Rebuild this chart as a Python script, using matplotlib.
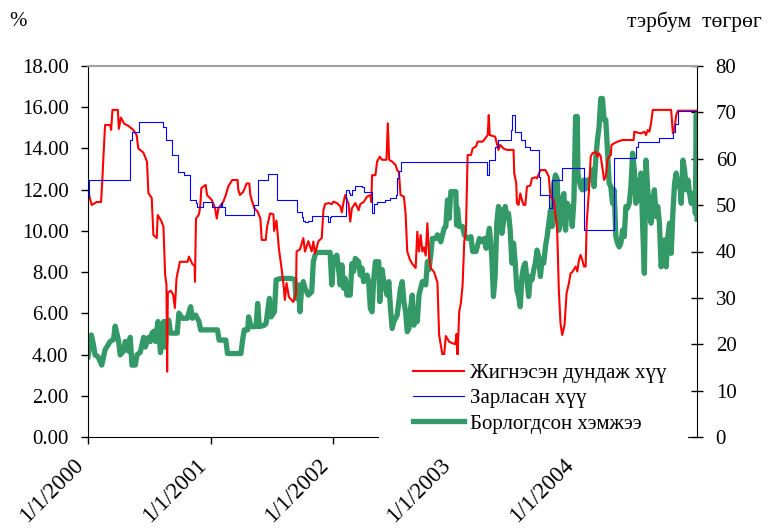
import matplotlib
matplotlib.use('Agg')
import matplotlib.pyplot as plt
import matplotlib.transforms as mtransforms
from matplotlib.patches import Rectangle
import pandas as pd

# serif font with Mongolian Cyrillic (ү, ө)
plt.rcParams['font.family'] = ['Liberation Serif', 'DejaVu Serif']

START = pd.Timestamp('2000-01-01')

# Жигнэсэн дундаж хүү (%), days since 2000-01-01
red_days = [3, 11, 26, 39, 43, 46, 51, 66, 69, 73, 89, 92, 98, 108, 120, 135, 145, 150, 165, 176,
            180, 190, 195, 205, 208, 218, 225, 230, 234, 236, 238, 247, 254, 259, 264, 274, 297, 301, 311, 318,
            319, 322, 331, 335, 338, 351, 355, 369, 379, 384, 389, 403, 411, 418, 430, 446, 448, 453, 463, 473,
            481, 484, 490, 496, 506, 514, 518, 530, 534, 543, 553, 555, 562, 569, 577, 584, 587, 592, 599, 612,
            620, 622, 632, 642, 647, 657, 667, 672, 677, 687, 697, 702, 707, 717, 727, 732, 742, 752, 757, 762,
            767, 777, 782, 787, 797, 807, 812, 822, 832, 842, 845, 847, 857, 862, 870, 877, 890, 894, 898, 907,
            917, 922, 927, 932, 942, 947, 952, 960, 967, 977, 982, 987, 992, 997, 1002, 1007, 1012, 1017, 1022, 1032,
            1042, 1047, 1057, 1062, 1067, 1077, 1087, 1095, 1099, 1102, 1107, 1112, 1117, 1122, 1127, 1132, 1142, 1147, 1157, 1162,
            1177, 1192, 1195, 1198, 1214, 1219, 1224, 1229, 1239, 1249, 1269, 1271, 1277, 1279, 1284, 1289, 1294, 1299, 1304, 1309,
            1319, 1324, 1334, 1339, 1349, 1364, 1369, 1374, 1379, 1389, 1399, 1404, 1409, 1414, 1421, 1427, 1434, 1439, 1444, 1454,
            1459, 1464, 1469, 1474, 1479, 1484, 1487, 1494, 1499, 1504, 1514, 1519, 1524, 1529, 1539, 1544, 1549, 1554, 1559, 1561,
            1569, 1579, 1594, 1627, 1629, 1649, 1659, 1664, 1669, 1674, 1679, 1684, 1739, 1744, 1749, 1754, 1759, 1816]
red_vals = [11.74, 11.26, 11.4, 11.4, 12.55, 13.6, 15.14, 15.14, 14.9, 15.87, 15.87, 14.95, 15.5, 15.2, 15.1, 14.9, 14.65, 14.0, 13.8, 13.36,
            11.84, 11.6, 9.8, 9.65, 10.77, 10.5, 10.2, 7.86, 7.4, 3.17, 7.0, 7.1, 6.9, 6.26, 7.7, 8.5, 8.5, 8.75, 8.4, 8.3,
            7.53, 10.6, 10.8, 11.26, 12.08, 12.23, 11.74, 11.5, 11.1, 10.6, 11.1, 11.4, 11.74, 12.15, 12.47, 12.47, 12.0, 11.74, 11.9, 12.3,
            12.3, 11.74, 11.4, 11.1, 10.93, 10.6, 9.56, 9.56, 10.2, 10.85, 10.8, 10.0, 10.5, 9.17, 8.2, 7.23, 6.65, 7.47, 6.8, 6.55,
            6.9, 9.0, 9.1, 9.65, 9.0, 9.5, 9.0, 9.48, 8.9, 9.5, 9.65, 11.0, 11.3, 11.35, 11.3, 11.42, 11.35, 11.2, 10.9, 11.4,
            11.74, 11.3, 10.45, 11.1, 11.35, 11.0, 11.3, 11.4, 11.66, 11.74, 11.4, 12.7, 12.7, 13.36, 13.6, 13.45, 13.45, 15.22, 13.45, 13.36,
            13.2, 12.95, 12.85, 11.74, 11.66, 10.85, 9.0, 8.6, 8.4, 8.2, 9.96, 9.0, 9.8, 9.0, 9.2, 8.8, 10.37, 8.8, 8.2, 8.0,
            7.5, 4.95, 3.98, 3.98, 4.9, 4.62, 4.55, 4.5, 5.0, 4.0, 6.08, 6.5, 7.37, 9.48, 10.0, 13.68, 13.68, 14.0, 14.1, 14.33,
            14.33, 14.65, 15.62, 14.65, 14.57, 14.25, 13.93, 14.17, 14.0, 13.93, 13.93, 12.8, 12.31, 11.34, 11.26, 11.82, 11.5, 11.26, 11.26, 12.15,
            12.2, 12.55, 12.6, 12.55, 12.95, 12.95, 12.8, 12.63, 11.66, 11.5, 10.04, 7.13, 5.52, 4.95, 5.43, 6.97, 7.46, 7.94, 8.0, 8.27,
            8.03, 8.59, 8.83, 8.59, 8.27, 8.27, 10.37, 11.98, 13.6, 13.76, 13.84, 13.6, 13.76, 13.6, 12.47, 12.63, 13.44, 13.6, 13.68, 14.17,
            14.25, 14.33, 14.41, 14.41, 14.81, 14.73, 14.81, 14.65, 14.89, 14.81, 15.22, 15.87, 15.87, 14.73, 14.97, 15.62, 15.83, 15.83]

# Зарласан хүү (%), step changes
blue_days = [0, 4, 126, 131, 151, 224, 234, 251, 269, 286, 304, 321, 326, 344, 371, 396, 401, 408, 494, 506,
             536, 564, 622, 637, 642, 647, 657, 667, 717, 721, 724, 770, 777, 782, 787, 797, 817, 822, 847, 852,
             862, 887, 902, 917, 922, 927, 934, 1190, 1197, 1214, 1222, 1261, 1265, 1273, 1291, 1304, 1319, 1344, 1349, 1374,
             1384, 1414, 1479, 1569, 1634, 1639, 1704, 1744, 1749, 1759, 1816]
blue_vals = [11.66, 12.47, 14.4, 14.81, 15.28, 15.06, 14.41, 13.68, 12.87, 12.71, 11.5, 11.34, 11.17, 11.42, 11.17, 11.34, 11.17, 10.77, 11.26, 12.47,
             12.74, 11.5, 10.93, 10.67, 10.5, 10.43, 10.5, 10.72, 10.43, 10.67, 10.72, 11.98, 11.82, 11.74, 11.98, 12.2, 12.15, 11.9, 10.87, 11.3,
             11.4, 11.5, 11.6, 11.74, 12.55, 12.9, 13.36, 12.71, 13.44, 14.08, 14.41, 14.9, 15.62, 14.81, 14.41, 14.08, 13.93, 12.63, 11.74, 11.1,
             12.47, 13.04, 10.04, 13.52, 14.08, 14.33, 14.49, 14.81, 15.2, 15.8, 15.82]

# Борлогдсон хэмжээ (тэрбум төгрөг)
green_days = [0, 10, 16, 21, 30, 41, 51, 66, 76, 81, 91, 96, 106, 111, 121, 126, 131, 141, 146, 156,
              166, 171, 176, 181, 186, 191, 196, 201, 206, 209, 216, 221, 226, 231, 234, 241, 246, 266, 271, 281,
              296, 306, 311, 321, 331, 336, 386, 391, 411, 416, 456, 461, 466, 476, 479, 486, 501, 506, 511, 526,
              531, 541, 546, 556, 561, 576, 591, 602, 617, 620, 627, 632, 637, 642, 647, 657, 667, 672, 677, 682,
              722, 727, 732, 742, 747, 752, 757, 762, 767, 772, 782, 787, 792, 797, 807, 812, 817, 822, 832, 837,
              842, 847, 852, 857, 867, 870, 877, 882, 892, 897, 902, 907, 912, 922, 932, 937, 942, 947, 952, 957,
              962, 967, 972, 977, 982, 987, 997, 1002, 1007, 1012, 1017, 1022, 1027, 1037, 1042, 1052, 1057, 1062, 1067, 1072,
              1077, 1082, 1097, 1099, 1102, 1107, 1117, 1122, 1132, 1142, 1147, 1157, 1167, 1177, 1182, 1187, 1197, 1204, 1209, 1214,
              1219, 1224, 1229, 1234, 1239, 1244, 1249, 1254, 1259, 1264, 1269, 1274, 1279, 1284, 1289, 1294, 1299, 1304, 1309, 1314,
              1319, 1324, 1329, 1334, 1339, 1344, 1349, 1354, 1359, 1364, 1369, 1374, 1379, 1384, 1389, 1394, 1399, 1404, 1409, 1414,
              1419, 1424, 1429, 1434, 1439, 1444, 1449, 1454, 1459, 1461, 1464, 1469, 1474, 1479, 1484, 1489, 1499, 1504, 1509, 1514,
              1519, 1524, 1529, 1534, 1539, 1544, 1549, 1554, 1559, 1564, 1569, 1574, 1579, 1584, 1589, 1594, 1599, 1604, 1609, 1614,
              1619, 1624, 1629, 1634, 1639, 1644, 1649, 1654, 1659, 1664, 1669, 1674, 1679, 1684, 1689, 1694, 1699, 1704, 1709, 1714,
              1719, 1724, 1729, 1734, 1739, 1744, 1749, 1754, 1759, 1764, 1769, 1774, 1779, 1784, 1789, 1794, 1799, 1804, 1809, 1811,
              1814, 1816]
green_vals = [17.3, 22.0, 20.0, 17.7, 17.3, 15.5, 18.8, 20.6, 21.0, 23.9, 20.8, 17.7, 18.5, 20.6, 18.5, 21.5, 15.5, 15.5, 17.7, 18.3,
              21.5, 19.4, 20.6, 21.5, 20.6, 22.4, 22.8, 20.6, 23.5, 24.9, 18.2, 20.6, 24.9, 19.4, 24.9, 25.2, 22.4, 22.4, 26.7, 25.6,
              25.6, 28.1, 25.6, 26.3, 24.9, 23.1, 23.1, 20.9, 20.9, 18.0, 18.0, 20.9, 23.1, 23.1, 25.9, 23.8, 23.8, 28.8, 23.8, 24.1,
              24.5, 29.9, 25.9, 27.0, 33.9, 34.2, 34.2, 34.2, 34.0, 29.9, 32.8, 27.0, 32.1, 33.5, 32.1, 30.6, 31.3, 37.8, 39.2, 39.8,
              39.8, 32.8, 38.5, 39.2, 36.4, 32.8, 37.1, 32.1, 34.2, 30.6, 30.6, 37.4, 35.7, 38.5, 37.8, 34.9, 36.4, 33.5, 34.9, 33.5,
              27.7, 27.0, 34.0, 37.8, 37.8, 29.2, 36.1, 33.5, 30.6, 33.5, 27.7, 23.4, 24.9, 26.3, 32.1, 33.5, 29.2, 27.0, 22.7, 23.4,
              27.7, 30.6, 24.1, 27.0, 24.9, 30.6, 33.5, 33.5, 32.8, 37.8, 36.1, 39.2, 42.8, 42.8, 43.6, 42.1, 43.6, 45.0, 45.4, 51.1,
              47.1, 52.9, 52.9, 45.7, 49.3, 45.4, 45.4, 43.6, 42.8, 43.2, 40.0, 40.0, 42.8, 42.1, 42.8, 40.7, 45.0, 38.9, 30.3, 34.6,
              46.1, 49.7, 48.9, 43.9, 46.4, 49.7, 47.5, 48.2, 44.6, 37.5, 41.8, 37.5, 31.7, 30.3, 28.1, 34.6, 36.7, 37.5, 33.9, 30.3,
              34.6, 33.9, 36.0, 37.5, 40.3, 38.9, 34.6, 38.2, 37.5, 41.0, 43.2, 46.1, 48.9, 45.4, 54.7, 56.5, 55.7, 44.6, 46.1, 51.1,
              52.5, 44.6, 50.4, 48.2, 49.7, 45.4, 51.1, 69.1, 69.1, 56.9, 55.4, 54.0, 53.3, 55.4, 53.5, 55.4, 55.4, 57.6, 54.0, 59.7,
              64.0, 66.9, 73.0, 73.0, 68.4, 68.4, 61.9, 54.7, 54.0, 50.4, 53.3, 43.2, 41.8, 41.0, 41.8, 44.6, 43.2, 49.7, 49.4, 50.4,
              54.0, 61.2, 57.6, 50.4, 55.4, 51.1, 56.9, 45.4, 35.3, 59.7, 53.3, 48.9, 46.1, 51.1, 53.3, 47.5, 49.7, 46.1, 36.7, 38.9,
              42.5, 36.7, 43.2, 46.1, 39.6, 48.2, 54.7, 56.9, 54.0, 55.4, 50.4, 59.7, 57.6, 53.3, 55.4, 52.5, 50.4, 52.5, 51.8, 48.2,
              69.5, 47.0]

series_labels = ['Жигнэсэн дундаж хүү', 'Зарласан хүү', 'Борлогдсон хэмжээ']
tick_years = [2000, 2001, 2002, 2003, 2004]
left_ticks = [0, 2, 4, 6, 8, 10, 12, 14, 16, 18]
right_ticks = [0, 10, 20, 30, 40, 50, 60, 70, 80]


def to_dates(days):
    return (START + pd.to_timedelta(days, unit='D')).to_numpy()


fig = plt.figure(figsize=(7.68, 5.29), dpi=100)
ax = fig.add_axes([88 / 768, 1 - 437 / 529, 609 / 768, 371 / 529])
ax2 = ax.twinx()
# rates drawn above the volume line
ax.set_zorder(ax2.get_zorder() + 1)
ax.patch.set_visible(False)

g_line, = ax2.plot(to_dates(green_days), green_vals, color='#339966', lw=3.8, solid_joinstyle='round')
r_line, = ax.plot(to_dates(red_days), red_vals, color='#ff0000', lw=1.5)
b_line, = ax.plot(to_dates(blue_days), blue_vals, color='#0000ff', lw=0.8, drawstyle='steps-post')

ax.set_xlim(to_dates([0])[0], to_dates([1816])[0])
ax.set_ylim(0, 18)
ax2.set_ylim(0, 80)

ax.set_yticks(left_ticks, [f'{v:.2f}' for v in left_ticks], fontsize=15)
ax2.set_yticks(right_ticks, [str(v) for v in right_ticks], fontsize=15)

# x ticks at Jan 1; rotated labels drawn as text, Excel-style shifted left/down of the tick
year_dates = to_dates([(pd.Timestamp(f'{y}-01-01') - START).days for y in tick_years])
ax.set_xticks(year_dates, [''] * len(tick_years))
shift = mtransforms.ScaledTranslation(-0.08, -0.25, fig.dpi_scale_trans)
for d, y in zip(year_dates, tick_years):
    ax.text(d, 0, f'1/1/{y}', transform=ax.get_xaxis_transform() + shift,
            rotation=45, rotation_mode='anchor', ha='right', va='center',
            fontsize=16.5, clip_on=False, zorder=7)

ax.tick_params(axis='y', direction='out', length=5, width=1, pad=9)
ax.tick_params(axis='x', direction='out', length=5, width=1)
ax2.tick_params(axis='y', direction='inout', length=9, width=1, pad=9)

for s in ['left', 'bottom']:
    ax.spines[s].set_color('black')
ax.spines['right'].set_visible(False)
ax.spines['top'].set_color('#a0a0a0')
ax.spines['top'].set_linewidth(1.5)
for s in ['left', 'bottom', 'top']:
    ax2.spines[s].set_visible(False)
ax2.spines['right'].set_color('black')

# white legend area that hides the axis below it
ax.add_patch(Rectangle((0.478, -0.035), 0.507, 0.255, transform=ax.transAxes,
                       facecolor='white', edgecolor='none', zorder=5, clip_on=False))
leg = ax.legend([r_line, b_line, g_line], series_labels, loc='upper left',
                bbox_to_anchor=(0.516, 0.226), frameon=False, borderpad=0,
                handlelength=2.45, handletextpad=0.3, labelspacing=0.27, fontsize=15)
leg.set_zorder(6)

fig.text(18 / 768, 1 - 22 / 529, '%', ha='center', va='center', fontsize=15)
fig.text(627 / 768, 1 - 22 / 529, 'тэрбум  төгрөг', ha='left', va='center', fontsize=15.5)

fig.savefig('out.png', dpi=100)
